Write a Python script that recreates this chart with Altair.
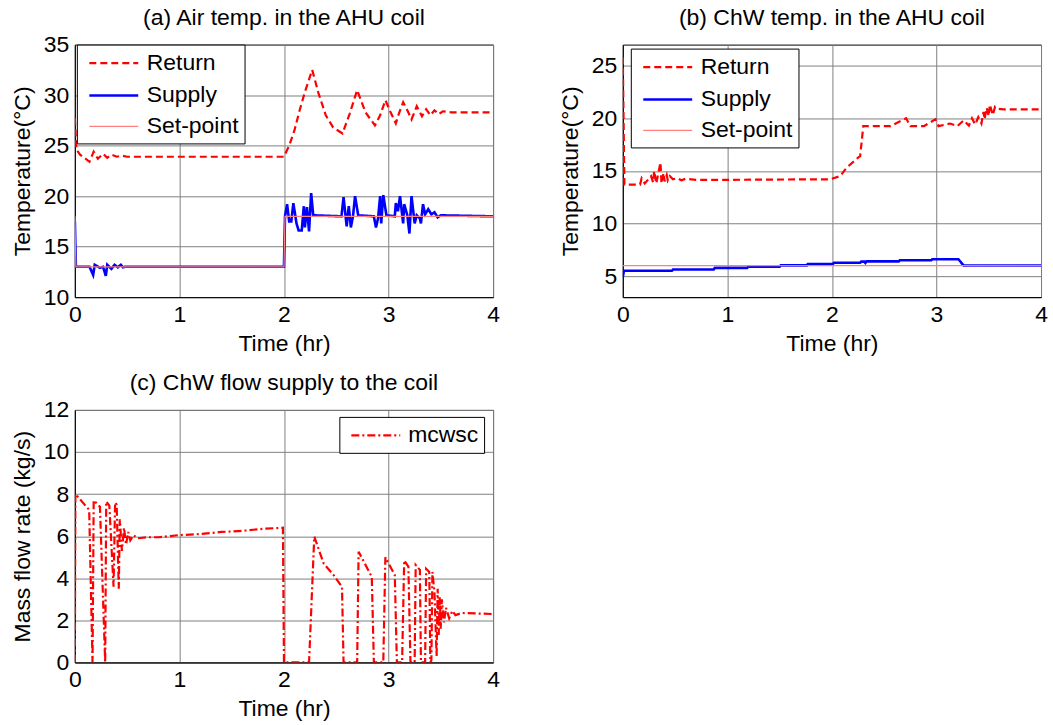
import altair as alt
import pandas as pd

FONT = "Liberation Sans"
FS = 23

# ---------------- Panel (a): air temperatures ----------------
a_return_t = [0, 0.015, 0.05, 0.09, 0.14, 0.18, 0.22, 0.27, 0.31, 0.35, 0.4, 0.45, 0.5, 0.6, 1.0, 2.0,
              2.05, 2.1, 2.15, 2.2, 2.27, 2.33, 2.4, 2.47, 2.56, 2.63, 2.7, 2.78, 2.87, 2.92, 2.97,
              3.02, 3.07, 3.1, 3.14, 3.18, 3.22, 3.27, 3.32, 3.36, 3.4, 3.44, 3.48, 3.52, 3.6, 4.0]
a_return_v = [27.7, 24.6, 24.1, 23.8, 23.4, 24.4, 23.7, 24.2, 23.8, 24.1, 23.9, 24.0, 23.9, 23.9, 23.9, 23.9,
              25.0, 26.5, 28.5, 30.3, 32.5, 30.2, 28.0, 26.8, 26.2, 28.2, 30.5, 28.3, 27.0, 28.0, 29.5,
              28.3, 27.2, 28.2, 29.3, 28.5, 27.6, 28.9, 27.9, 28.6, 28.0, 28.5, 28.1, 28.4, 28.3, 28.3]

a_supply_t = [0, 0.01, 0.1, 0.14, 0.175, 0.19, 0.24, 0.27, 0.296, 0.31, 0.35, 0.38, 0.41, 0.44, 0.46, 0.48,
              1.0, 2.0, 2.01, 2.03, 2.05, 2.07, 2.09, 2.12, 2.14, 2.17, 2.19, 2.2, 2.22, 2.24, 2.26, 2.28,
              2.55, 2.57, 2.6, 2.62, 2.64, 2.66, 2.68, 2.71, 2.86, 2.88, 2.9, 2.92, 2.93, 2.95, 2.98,
              3.06, 3.07, 3.09, 3.11, 3.14, 3.15, 3.18, 3.2, 3.22, 3.25, 3.27, 3.3, 3.31, 3.33, 3.35,
              3.38, 3.41, 3.44, 3.47, 3.5, 4.0]
a_supply_v = [17.5, 13.0, 13.0, 13.0, 12.2, 13.2, 12.9, 13.0, 12.1, 13.2, 12.8, 13.2, 12.95, 13.2, 12.95, 13.0,
              13.0, 13.0, 18.0, 19.2, 17.5, 17.5, 19.3, 17.3, 16.6, 16.6, 19.0, 16.9, 18.9, 16.5, 20.3, 18.1,
              18.0, 19.9, 17.0, 19.0, 16.9, 18.0, 20.0, 18.1, 18.0, 16.9, 17.8, 20.0, 17.3, 20.1, 18.1,
              18.0, 19.3, 18.5, 20.0, 17.3, 19.2, 18.1, 16.3, 20.0, 17.3, 18.1, 17.8, 17.3, 19.2, 18.2,
              18.7, 18.2, 18.4, 17.9, 18.1, 18.0]

a_setpoint_t = [0, 0.01, 2.0, 2.01, 4.0]
a_setpoint_v = [18.0, 13.0, 13.0, 18.0, 18.0]

# ---------------- Panel (b): chilled-water temperatures ----------------
b_return_t = [0, 0.015, 0.165, 0.18, 0.21, 0.27, 0.29, 0.30, 0.32, 0.36, 0.37, 0.39, 0.40, 0.42, 0.43, 0.45,
              0.48, 0.52, 0.56, 0.6, 0.7, 1.0, 1.98, 2.08, 2.14, 2.25, 2.27, 2.30, 2.56, 2.71, 2.75, 2.88,
              2.99, 3.02, 3.13, 3.20, 3.26, 3.31, 3.34, 3.37, 3.40, 3.43, 3.45, 3.46, 3.48, 3.50, 3.51,
              3.54, 3.56, 3.59, 3.64, 4.0]
b_return_v = [25.8, 13.7, 13.7, 14.3, 13.8, 14.5, 13.9, 15.0, 13.8, 15.8, 13.8, 14.8, 14.0, 14.6, 14.1, 14.5,
              14.2, 14.3, 14.1, 14.25, 14.15, 14.15, 14.2, 14.5, 15.3, 16.25, 16.4, 19.25, 19.25, 20.0, 19.25, 19.25,
              19.9, 19.25, 19.5, 19.25, 19.8, 19.3, 20.0, 19.4, 20.1, 19.5, 20.6, 19.9, 21.0, 20.2, 21.3,
              20.3, 21.1, 20.9, 20.85, 20.85]

b_supply_t = [0, 0.01, 0.47, 0.48, 0.87, 0.88, 1.19, 1.2, 1.5, 1.51, 1.76, 1.77, 2.01, 2.02, 2.27, 2.28,
              2.31, 2.32, 2.33, 2.64, 2.65, 2.95, 2.96, 3.21, 3.26, 4.0]
b_supply_v = [4.9, 5.5, 5.5, 5.63, 5.63, 5.78, 5.78, 5.9, 5.9, 6.02, 6.02, 6.15, 6.15, 6.27, 6.27, 6.37,
              6.37, 6.25, 6.4, 6.4, 6.5, 6.5, 6.6, 6.6, 6.0, 6.0]

b_setpoint_t = [0, 4.0]
b_setpoint_v = [6.0, 6.0]

# ---------------- Panel (c): chilled-water mass flow ----------------
c_flow_t = [0, 0.005, 0.137, 0.169, 0.18, 0.24, 0.29, 0.30, 0.33, 0.37, 0.385, 0.40, 0.42, 0.43, 0.45, 0.47,
            0.49, 0.51, 0.53, 0.56, 0.6, 0.7, 0.8, 0.9, 1.0, 1.2, 1.4, 1.6, 1.8, 1.99, 2.0, 2.24,
            2.29, 2.38, 2.475, 2.555, 2.57, 2.70, 2.714, 2.84, 2.86, 2.95, 2.97, 3.06, 3.08, 3.13,
            3.15, 3.19, 3.21, 3.25, 3.26, 3.30, 3.31, 3.35, 3.36, 3.39, 3.40, 3.41, 3.42, 3.44, 3.46,
            3.47, 3.48, 3.49, 3.50, 3.51, 3.53, 3.55, 3.58, 3.61, 3.64, 3.7, 4.0]
c_flow_v = [0, 8.0, 7.25, 0.0, 7.7, 7.4, 0.0, 7.65, 7.45, 3.6, 7.6, 7.5, 3.5, 6.8, 5.3, 6.4,
            5.6, 6.2, 5.8, 6.05, 5.9, 5.95, 5.95, 6.0, 6.05, 6.1, 6.2, 6.25, 6.35, 6.4, 0.0, 0.0,
            5.98, 4.7, 4.15, 3.6, 0.0, 0.0, 5.26, 4.07, 0.0, 0.0, 5.0, 4.15, 0.0, 0.0,
            4.85, 4.55, 0.0, 0.0, 4.63, 4.4, 0.0, 0.0, 4.45, 4.3, 0.0, 0.1, 4.3, 3.3, 0.3,
            3.5, 1.3, 3.1, 1.6, 3.0, 1.9, 2.6, 2.1, 2.45, 2.25, 2.35, 2.3]

time_ticks = [0, 1, 2, 3, 4]


def long_df(series):
    rows = []
    for name, ts, vs in series:
        for i, (t, v) in enumerate(zip(ts, vs)):
            rows.append({"t": t, "v": v, "series": name, "i": i})
    return pd.DataFrame(rows)


def panel(df, title, title_offset, ytitle, ydomain, yticks, names, colors, dashes, widths, lx, ly):
    leg = alt.Legend(orient="none", legendX=lx, legendY=ly, title=None, symbolType="M-2,0H2",
                     symbolSize=600, labelFontSize=FS, labelFont=FONT, labelColor="black",
                     strokeColor="black", fillColor="white", padding=5, rowPadding=6,
                     symbolOffset=18, labelOffset=19)
    return alt.Chart(df, title=alt.TitleParams(title, fontSize=FS, font=FONT, fontWeight="normal",
                                               color="black", offset=title_offset)).mark_line(clip=True).encode(
        x=alt.X("t:Q", scale=alt.Scale(domain=[0, 4], nice=False),
                axis=alt.Axis(values=time_ticks, format="d", title="Time (hr)")),
        y=alt.Y("v:Q", scale=alt.Scale(domain=ydomain, nice=False, zero=False),
                axis=alt.Axis(values=yticks, format="d", title=ytitle)),
        color=alt.Color("series:N", scale=alt.Scale(domain=names, range=colors), legend=leg),
        strokeDash=alt.StrokeDash("series:N", scale=alt.Scale(domain=names, range=dashes), legend=leg),
        strokeWidth=alt.StrokeWidth("series:N", scale=alt.Scale(type="ordinal", domain=names, range=widths),
                                    legend=leg),
        order=alt.Order("i:Q"),
    ).properties(width=419, height=253)


names3 = ["Return", "Supply", "Set-point"]
cols3 = ["#FF0000", "#0000FF", "#FF7F7F"]
dash3 = [[7, 4], [1, 0], [1, 0]]
wid3 = [2.2, 2.6, 1.2]

df_a = long_df([("Return", a_return_t, a_return_v), ("Supply", a_supply_t, a_supply_v),
                ("Set-point", a_setpoint_t, a_setpoint_v)])
df_b = long_df([("Return", b_return_t, b_return_v), ("Supply", b_supply_t, b_supply_v),
                ("Set-point", b_setpoint_t, b_setpoint_v)])
df_c = long_df([("mcwsc", c_flow_t, c_flow_v)])

pa = panel(df_a, "(a) Air temp. in the AHU coil", 4, "Temperature(°C)", [10, 35], [10, 15, 20, 25, 30, 35],
           names3, cols3, dash3, wid3, 2, 0)
pb = panel(df_b, "(b) ChW temp. in the AHU coil", 15, "Temperature(°C)", [3, 27], [5, 10, 15, 20, 25],
           names3, cols3, dash3, wid3, 8, 4)
pc = panel(df_c, "(c) ChW flow supply to the coil", 4, "Mass flow rate (kg/s)", [0, 12],
           [0, 2, 4, 6, 8, 10, 12], ["mcwsc"], ["#FF0000"], [[8, 3, 2, 3]], [2.2], 265, 7)

chart = alt.concat(pa, pb, pc, columns=2, spacing={"row": 113, "column": 130}, bounds="flush").resolve_scale(
    color="independent", strokeDash="independent", strokeWidth="independent"
).resolve_legend(
    color="independent", strokeDash="independent", strokeWidth="independent"
).properties(
    padding={"left": 10, "top": 5, "right": 5, "bottom": 5}, background="white"
).configure_view(
    stroke="black", strokeWidth=1
).configure_axis(
    labelFont=FONT, titleFont=FONT, labelFontSize=FS, titleFontSize=FS, labelColor="black",
    titleColor="black", titleFontWeight="normal", grid=True, gridColor="#808080", gridWidth=1,
    gridOpacity=1, domainColor="black", ticks=False, labelPadding=6, titlePadding=6, labelFlush=False
).configure_axisY(
    titlePadding=9
)

chart.save("out.html", embed_options={"renderer": "svg", "actions": False})
